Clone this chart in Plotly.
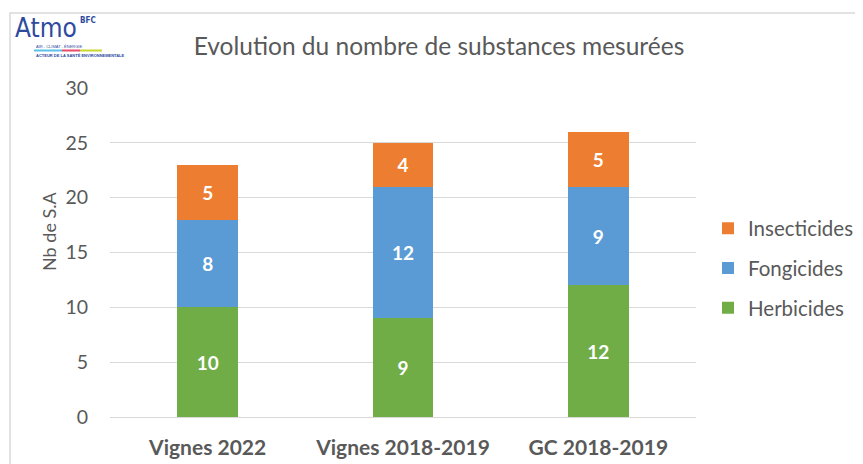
import plotly.graph_objects as go

categories = ["Vignes 2022", "Vignes 2018-2019", "GC 2018-2019"]
herbicides = [10, 9, 12]
fongicides = [8, 12, 9]
insecticides = [5, 4, 5]
y_ticks = [0, 5, 10, 15, 20, 25, 30]

FONT = "Lato"
GRAY = "#595959"

# page has an 8px body margin -> everything in page pixels minus 8
OFF = 8
W, H = 863 - OFF, 464 - OFF
L, R, T, B = 110 - OFF, 696 - OFF, 88 - OFF, 417 - OFF


def px(x):
    return (x - OFF - L) / (R - L)


def py(y):
    return (B - (y - OFF)) / (B - T)


fig = go.Figure()
series = [("Herbicides", herbicides, "#70AD47", 3),
          ("Fongicides", fongicides, "#5B9BD5", 2),
          ("Insecticides", insecticides, "#ED7D31", 1)]
for name, vals, col, rank in series:
    fig.add_trace(go.Bar(
        x=categories, y=vals, name=name, marker_color=col,
        marker_line_width=0, legendgroup=name, legendrank=rank,
        text=vals, texttemplate="<b>%{text}</b>", textposition="inside",
        insidetextanchor="middle",
        textfont=dict(color="white", size=19, family=FONT),
    ))

fig.update_layout(
    width=W, height=H,
    margin=dict(l=L, r=W - R, t=T, b=H - B, pad=0, autoexpand=False),
    barmode="stack", bargap=0.69,
    plot_bgcolor="white", paper_bgcolor="white",
    font=dict(family=FONT, color=GRAY),
    title=dict(text="Evolution du nombre de substances mesurées",
               x=(439 - OFF) / W, xref="container", xanchor="center",
               y=1 - (46 - OFF) / H, yref="container", yanchor="middle",
               font=dict(size=24.5, color=GRAY, family=FONT)),
    legend=dict(x=px(708), y=py(268), xanchor="left", yanchor="middle",
                traceorder="grouped", tracegroupgap=10,
                font=dict(size=20.5, color=GRAY, family=FONT),
                itemwidth=30),
    showlegend=True,
)
fig.update_yaxes(range=[0, 30], tickvals=y_ticks, showgrid=True,
                 gridcolor="#D9D9D9", gridwidth=1.3, zeroline=True,
                 zerolinecolor="#D9D9D9", zerolinewidth=1.3,
                 tickfont=dict(size=19.5, color=GRAY, family=FONT),
                 ticks="", ticklabelstandoff=21)
fig.update_xaxes(tickfont=dict(size=21, color=GRAY, family=FONT),
                 ticks="", ticklabelstandoff=16,
                 tickprefix="<b>", ticksuffix="</b>")

# y-axis title
fig.add_annotation(xref="paper", yref="paper", x=px(49), y=py(231),
                   text="Nb de S.A", textangle=-90, showarrow=False,
                   xanchor="center", yanchor="middle",
                   font=dict(size=18, color=GRAY, family=FONT))

# chart border
fig.add_shape(type="rect", xref="paper", yref="paper",
              x0=px(10), x1=px(900), y0=py(500), y1=py(13),
              line=dict(color="#D9D9D9", width=1.5), fillcolor="rgba(0,0,0,0)",
              layer="below")

# logo
LOGO = "#2E4A9E"
fig.add_annotation(xref="paper", yref="paper", x=px(13), y=py(45),
                   text="Atmo", showarrow=False, xanchor="left",
                   yanchor="bottom",
                   font=dict(size=26, color=LOGO,
                             family="DejaVu Sans Condensed, DejaVu Sans"))
fig.add_annotation(xref="paper", yref="paper", x=px(78), y=py(21),
                   text="<b>BFC</b>", showarrow=False, xanchor="left",
                   yanchor="middle",
                   font=dict(size=8, color=LOGO,
                             family="DejaVu Sans Condensed, DejaVu Sans"))
fig.add_annotation(xref="paper", yref="paper", x=px(34), y=py(46),
                   text="AIR - CLIMAT - ÉNERGIE", showarrow=False, xanchor="left",
                   yanchor="middle",
                   font=dict(size=4, color=LOGO, family="Liberation Sans"))
for x0, x1, c in [(34, 62, "#5BC0EB"), (62, 80, "#E94B6B"), (80, 102, "#C8D62E")]:
    fig.add_shape(type="line", xref="paper", yref="paper",
                  x0=px(x0), x1=px(x1), y0=py(50.5), y1=py(50.5),
                  line=dict(color=c, width=2))
fig.add_annotation(xref="paper", yref="paper", x=px(34), y=py(55.5),
                   text="<b>ACTEUR DE LA SANTÉ ENVIRONNEMENTALE</b>",
                   showarrow=False, xanchor="left", yanchor="middle",
                   font=dict(size=4, color=LOGO, family="Liberation Sans"))

fig.write_html("out.html")
